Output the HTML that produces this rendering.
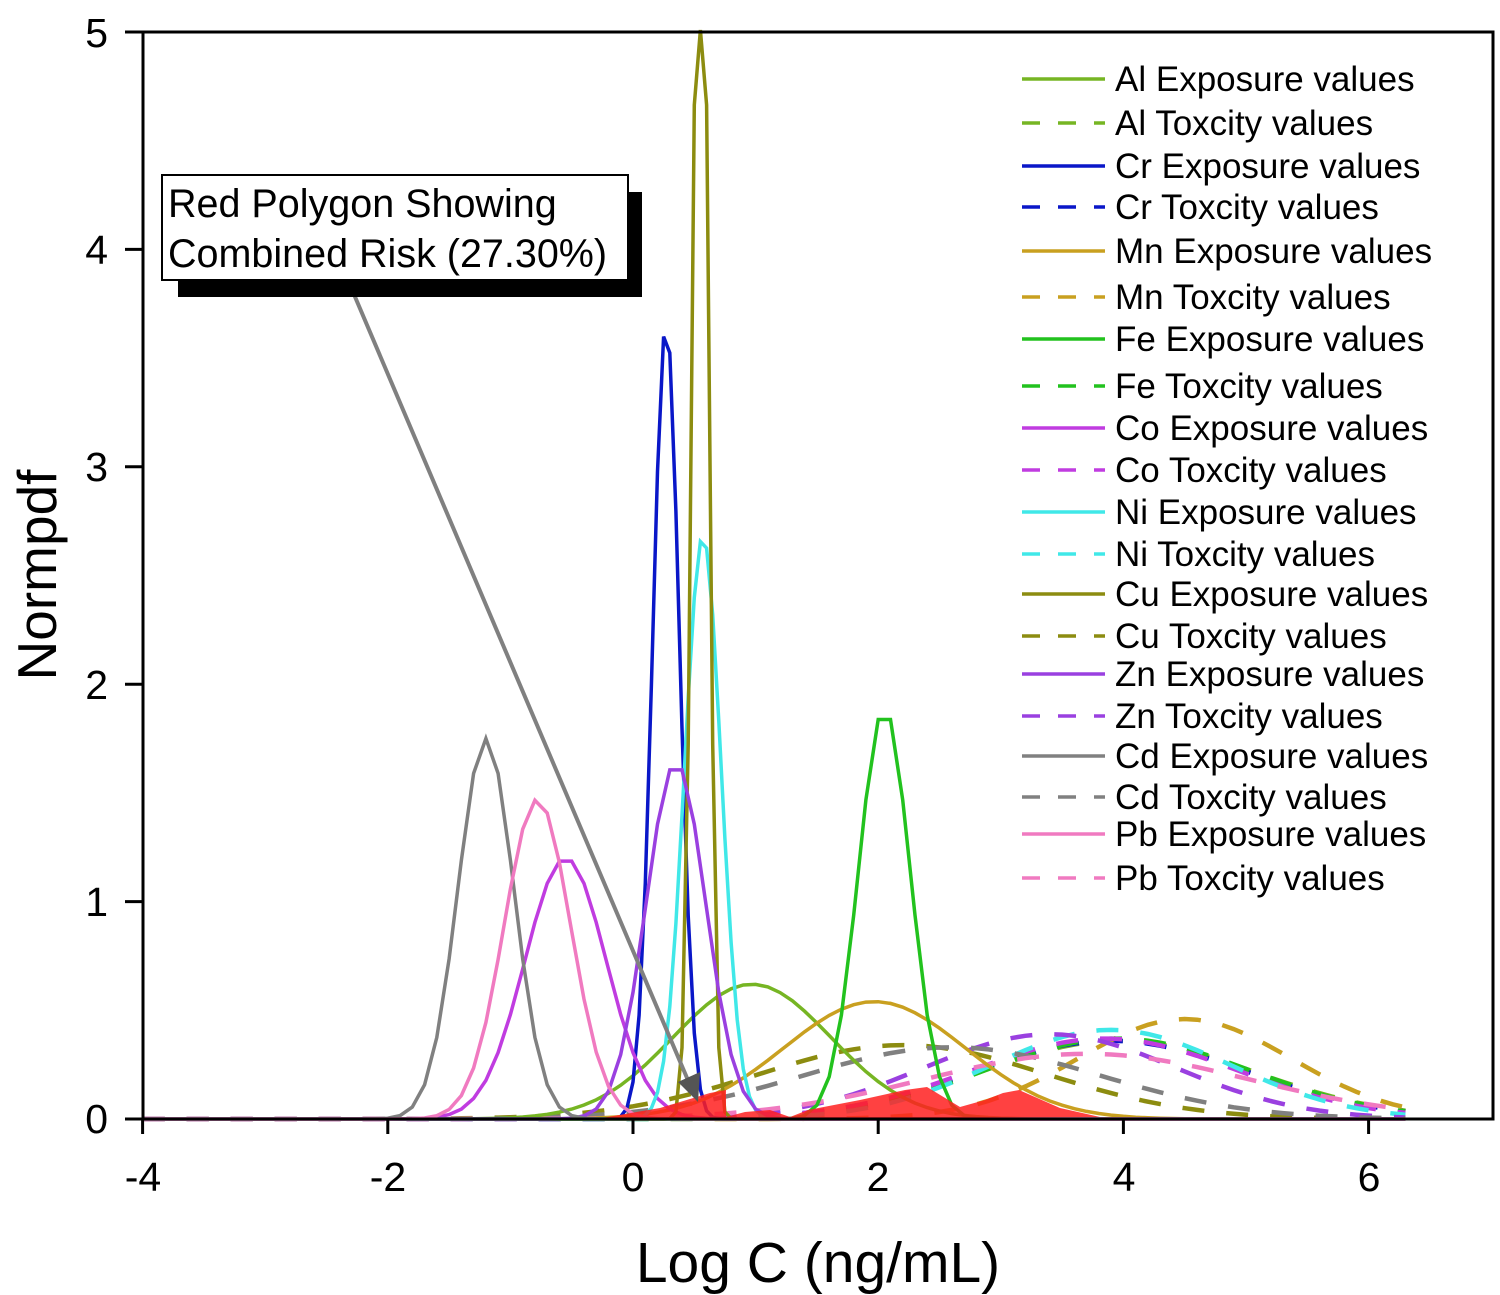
<!DOCTYPE html>
<html><head><meta charset="utf-8"><style>
body{margin:0;background:#fff}
svg{display:block;font-family:"Liberation Sans",sans-serif}
</style></head><body>
<svg id="s" width="1500" height="1295" xmlns="http://www.w3.org/2000/svg">
<rect width="1500" height="1295" fill="#fff"/>
<g id="curves"></g>
<polygon fill="#ff2020" fill-opacity="0.85" points="602,1118 660,1108 710,1093 726,1090 726,1117 745,1112 770,1110 790,1117 808,1110 860,1100 905,1090 927,1087 960,1107 985,1100 1003,1093 1019,1090 1060,1108 1100,1117 600,1119"/>
<rect x="143" y="32" width="1350" height="1087" fill="none" stroke="#000" stroke-width="3"/>
<g id="ticks" stroke="#000" stroke-width="3"></g>
<g font-size="41" text-anchor="middle" fill="#000">
<text x="143" y="1191">-4</text><text x="388" y="1191">-2</text><text x="633" y="1191">0</text><text x="878" y="1191">2</text><text x="1124" y="1191">4</text><text x="1369" y="1191">6</text>
</g>
<g font-size="41" text-anchor="end" fill="#000">
<text x="108" y="1133">0</text><text x="108" y="916">1</text><text x="108" y="699">2</text><text x="108" y="481">3</text><text x="108" y="264">4</text><text x="108" y="47">5</text>
</g>
<text x="818" y="1282" font-size="57" text-anchor="middle">Log C (ng/mL)</text>
<text transform="translate(56,575) rotate(-90)" font-size="55" text-anchor="middle">Normpdf</text>
<line x1="350" y1="285" x2="690" y2="1085" stroke="#808080" stroke-width="4"/>
<polygon points="698,1102 678,1082 700,1072" fill="#555"/>
<rect x="178" y="192" width="464" height="105" fill="#000"/>
<rect x="162" y="175" width="466" height="105" fill="#fff" stroke="#000" stroke-width="2"/>
<text x="168" y="217" font-size="39.5">Red Polygon Showing</text>
<text x="168" y="267" font-size="39.5">Combined Risk (27.30%)</text>
<g id="legend" font-size="35"></g>
</svg>
<script>
const X=x=>633+122.6*x, Y=y=>1119-217.4*y;
const C={Al:"#76b523",Cr:"#0a17c8",Mn:"#c9a020",Fe:"#22c21e",Co:"#c03ce0",Ni:"#40e8e8",Cu:"#8c8c10",Zn:"#9a40e0",Cd:"#808080",Pb:"#f07ac0"};
const E={Al:[0.97,0.62],Cr:[0.27,3.66],Mn:[1.97,0.54],Fe:[2.05,1.89],Co:[-0.55,1.2],Ni:[0.57,2.68],Cu:[0.55,6.5],Zn:[0.35,1.64],Cd:[-1.2,1.75],Pb:[-0.78,1.47]};
const T={Al:[3.95,0.36],Cr:[3.9,0.36],Mn:[4.5,0.46],Fe:[3.95,0.37],Co:[3.85,0.37],Ni:[3.9,0.41],Cu:[2.2,0.34],Zn:[3.4,0.39],Cd:[2.6,0.33],Pb:[3.7,0.3]};
let g=document.getElementById('curves'),h='';
function path(m,p,step){let s=1/(p*Math.sqrt(2*Math.PI)),d='';
 for(let x=-4;x<=6.31;x+=step){let y=p*Math.exp(-0.5*((x-m)/s)**2);let yy=Math.max(Y(Math.min(y,5.3)),30);d+=(d?'L':'M')+X(x).toFixed(1)+','+yy.toFixed(1);}return d;}
for(const k in T)h+=`<path d="${path(T[k][0],T[k][1],0.1)}" fill="none" stroke="${C[k]}" stroke-width="4.5" stroke-dasharray="22,22"/>`;
for(const k in E){let st=E[k][1]>2.5?0.05:0.1;h+=`<path d="${path(E[k][0],E[k][1],st)}" fill="none" stroke="${C[k]}" stroke-width="3.5"/>`;}
g.innerHTML=h;
let t='';[-4,-2,0,2,4,6].forEach(v=>t+=`<line x1="${X(v)}" y1="1119" x2="${X(v)}" y2="1134"/>`);
[0,1,2,3,4,5].forEach(v=>t+=`<line x1="125" y1="${Y(v)}" x2="143" y2="${Y(v)}"/>`);
document.getElementById('ticks').innerHTML=t;
const ys=[79,123,166,207,251,297,339,386,428,470,512,554,594,636,674,716,756,797,834,878];
let l='',i=0;for(const k in C){for(const tox of [0,1]){let y=ys[i++];
l+=`<line x1="1022" y1="${y}" x2="1105" y2="${y}" stroke="${C[k]}" stroke-width="3.5" ${tox?'stroke-dasharray="18,18"':''}/>`;
l+=`<text x="1115" y="${y+12}">${k} ${tox?'Toxcity':'Exposure'} values</text>`;}}
document.getElementById('legend').innerHTML=l;
</script>
</body></html>
